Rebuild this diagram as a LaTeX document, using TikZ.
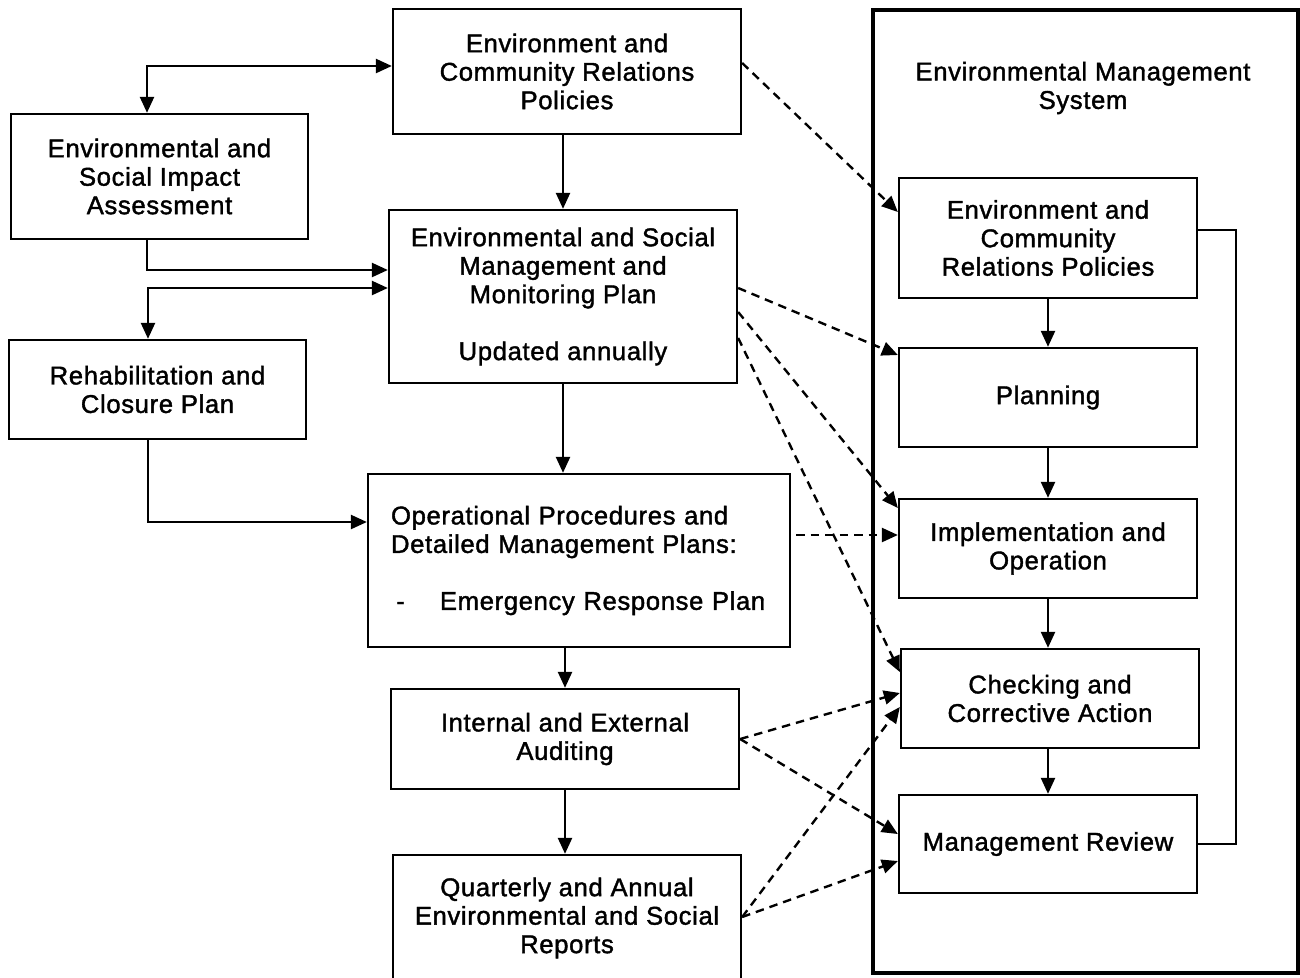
\documentclass[tikz,border=0pt]{standalone}
\usepackage{fontspec}
\setmainfont{Liberation Sans}[LetterSpace=2.5, FakeBold=1.5]
\usetikzlibrary{arrows.meta}
\tikzset{
    box/.style={draw, black, line width=1.35pt, inner sep=0pt, align=center},
    emsframe/.style={draw, black, line width=2.4pt, inner sep=0pt},
    flow/.style={black, line width=1.35pt},
    link/.style={flow, ->, dash pattern=on 0.17cm off 0.12cm},
    >={Triangle[length=0.32cm, width=0.28cm]}
}
\begin{document}
\begin{tikzpicture}[x=0.02cm, y=-0.02cm, font=\fontsize{14.6}{16.2}\selectfont]
        \useasboundingbox (0,0) rectangle (1300,977);

        \node[box, minimum width=6.96cm, minimum height=2.5cm] (ecrp) at (567,71.5) {Environment and\\Community Relations\\Policies};
        \node[box, minimum width=5.94cm, minimum height=2.5cm] (esia) at (159.5,176.5) {Environmental and\\Social Impact\\Assessment};
        \node[box, minimum width=6.96cm, minimum height=3.46cm] (esmmp) at (563,296.5) {Environmental and Social\\Management and\\Monitoring Plan\\[16.2pt]Updated annually};
        \node[box, minimum width=5.94cm, minimum height=1.98cm] (rcp) at (157.5,389.5) {Rehabilitation and\\Closure Plan};
        \node[box, minimum width=8.44cm, minimum height=3.46cm, text width=7.52cm, align=left] (opdmp) at (579,560.5) {Operational Procedures and\\Detailed Management Plans:\\[16.2pt]\hspace{3pt}-\hspace{20pt}Emergency Response Plan};
        \node[box, minimum width=6.96cm, minimum height=2cm] (audit) at (565,739) {Internal and External\\Auditing};
        \node[box, minimum width=6.96cm, minimum height=2.52cm] (reports) at (567,918) {Quarterly and Annual\\Environmental and Social\\Reports};

        \node[emsframe, minimum width=8.5cm, minimum height=19.26cm] (ems) at (1085.5,491.5) {};
        \node[align=center] (emstitle) at (1083,88) {Environmental Management\\System};
        \node[box, minimum width=5.96cm, minimum height=2.4cm] (emspol) at (1048,238) {Environment and\\Community\\Relations Policies};
        \node[box, minimum width=5.96cm, minimum height=1.98cm] (plan) at (1048,397.5) {Planning};
        \node[box, minimum width=5.96cm, minimum height=1.98cm] (impl) at (1048,548.5) {Implementation and\\Operation};
        \node[box, minimum width=5.96cm, minimum height=1.98cm] (check) at (1050,698.5) {Checking and\\Corrective Action};
        \node[box, minimum width=5.96cm, minimum height=1.96cm] (review) at (1048,844) {Management Review};

        \coordinate (tl) at (147,66);
        \draw[flow, <->] (esia.north -| tl) |- (ecrp.west |- tl);
        \draw[flow, ->] (esia.south -| 147,0) |- (esmmp.west |- 0,270);
        \draw[flow, <->] (rcp.north -| 148,0) |- (esmmp.west |- 0,288);
        \draw[flow, ->] (rcp.south -| 148,0) |- (opdmp.west |- 0,522);

        \draw[flow, ->] (esmmp.north |- ecrp.south) -- (esmmp.north);
        \draw[flow, ->] (esmmp.south) -- (esmmp.south |- opdmp.north);
        \draw[flow, ->] (audit.north |- opdmp.south) -- (audit.north);
        \draw[flow, ->] (audit.south) -- (audit.south |- reports.north);

        \draw[flow, ->] (emspol.south) -- (plan.north);
        \draw[flow, ->] (plan.south) -- (impl.north);
        \draw[flow, ->] (impl.south) -- (impl.south |- check.north);
        \draw[flow, ->] (review.north |- check.south) -- (review.north);
        \draw[flow] (review.east) -- ++(38,0) |- (emspol.east |- 0,230);

        \draw[link] (ecrp.east |- 0,63) -- (emspol.west |- 0,212);
        \draw[link] (esmmp.east |- 0,288) -- (plan.west |- 0,355);
        \draw[link] (esmmp.east |- 0,312) -- (impl.west |- 0,508);
        \draw[link] (esmmp.east |- 0,338) -- (check.west |- 0,672);
        \draw[link, shorten <=0.1cm] (opdmp.east |- 0,535) -- (impl.west |- 0,535);
        \draw[link] (audit.east |- 0,739) -- (check.west |- 0,693);
        \draw[link] (audit.east |- 0,739) -- (review.west |- 0,834);
        \draw[link] (reports.east |- 0,917) -- (check.west |- 0,707);
        \draw[link] (reports.east |- 0,917) -- (review.west |- 0,861);
    \end{tikzpicture}
\end{document}
